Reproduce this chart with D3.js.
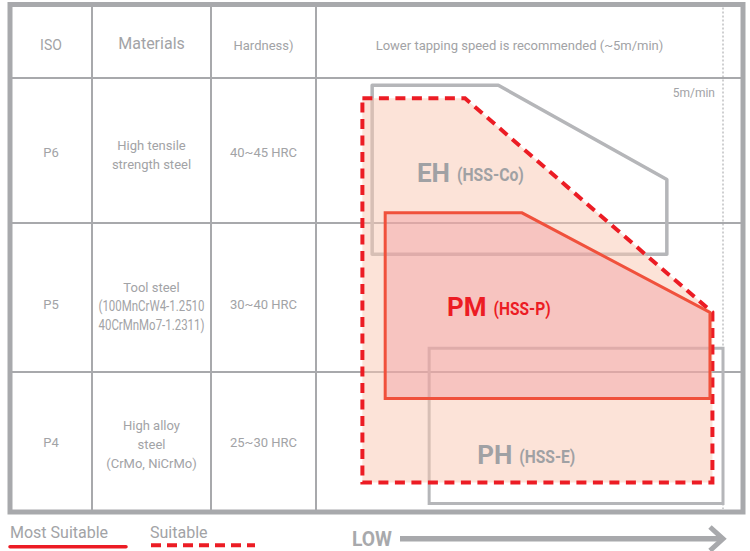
<!DOCTYPE html>
<html>
<head>
<meta charset="utf-8">
<script src="https://d3js.org/d3.v7.min.js"></script>
<style>
  body { margin: 0; background: #fff; }
  text { font-family: Roboto, "Liberation Sans", sans-serif; }
</style>
</head>
<body>
<div id="chart"></div>
<script>
// table content
var isoGrades = ["P6", "P5", "P4"];
var materials = [
  ["High tensile", "strength steel"],
  ["Tool steel", "(100MnCrW4-1.2510", "40CrMnMo7-1.2311)"],
  ["High alloy", "steel", "(CrMo, NiCrMo)"]
];
var hardness = ["40~45 HRC", "30~40 HRC", "25~30 HRC"];
var headers = ["ISO", "Materials", "Hardness)", "Lower tapping speed is recommended (~5m/min)"];

// tap regions: [speed m/min, row position (0 = top of P6, 3 = bottom of P4)]
var ehShape = [[0.69, 0.05], [2.24, 0.05], [4.31, 0.7], [4.31, 1.21], [0.69, 1.21]];
var suitableShape = [[0.57, 0.14], [1.83, 0.14], [4.87, 1.6], [4.87, 2.79], [0.57, 2.79]];
var pmShape = [[0.85, 0.93], [2.53, 0.93], [4.84, 1.6], [4.84, 2.19], [0.85, 2.19]];
var phShape = [[1.39, 1.84], [5, 1.84], [5, 2.94], [1.39, 2.94]];
var maxSpeed = 5;

var width = 750,
    height = 551;

var grey = "#a8a9ac",
    textGrey = "#a2a3a6",
    red = "#ec1c24";

var svg = d3.select("#chart").append("svg")
    .attr("width", width)
    .attr("height", height);

// layout of the table
var colEdges = [10, 92, 211, 316, 743];
var rowEdges = [4.5, 78, 223, 372, 512];
var rowBase = [157, 309, 447];   // text baselines per row

var x = d3.scaleLinear().domain([0, maxSpeed]).range([316, 723]);
var y = d3.scaleLinear().domain([0, 1, 2, 3]).range(rowEdges.slice(1));

// inner grid
svg.selectAll(".col")
  .data(colEdges.slice(1, 4))
  .enter().append("line")
    .attr("x1", function(d) { return d; })
    .attr("x2", function(d) { return d; })
    .attr("y1", rowEdges[0])
    .attr("y2", rowEdges[4])
    .attr("stroke", grey)
    .attr("stroke-width", 2);

svg.selectAll(".row")
  .data(rowEdges.slice(1, 4))
  .enter().append("line")
    .attr("x1", colEdges[0])
    .attr("x2", colEdges[4])
    .attr("y1", function(d) { return d; })
    .attr("y2", function(d) { return d; })
    .attr("stroke", grey)
    .attr("stroke-width", 2);

// 5m/min marker
svg.append("line")
    .attr("x1", x(maxSpeed)).attr("x2", x(maxSpeed))
    .attr("y1", rowEdges[0] + 3).attr("y2", rowEdges[4] - 3)
    .attr("stroke", "#9fa0a3")
    .attr("stroke-width", 1)
    .attr("stroke-dasharray", "2,2");

svg.append("text")
    .attr("x", x(maxSpeed) - 8)
    .attr("y", 97)
    .attr("text-anchor", "end")
    .style("font-size", "12px")
    .style("fill", textGrey)
    .text("5m/min");

// header texts
var headerCenters = [
  (colEdges[0] + colEdges[1]) / 2,
  (colEdges[1] + colEdges[2]) / 2,
  (colEdges[2] + colEdges[3]) / 2,
  (colEdges[3] + x(maxSpeed)) / 2
];
svg.selectAll(".head")
  .data(headers)
  .enter().append("text")
    .attr("x", function(d, i) { return headerCenters[i]; })
    .attr("y", function(d, i) { return i == 1 ? 49 : 50; })
    .attr("text-anchor", "middle")
    .style("font-size", function(d, i) { return i == 1 ? "16px" : (i == 0 ? "14px" : "13px"); })
    .style("fill", textGrey)
    .text(function(d) { return d; });

// row texts
svg.selectAll(".iso")
  .data(isoGrades)
  .enter().append("text")
    .attr("x", headerCenters[0])
    .attr("y", function(d, i) { return rowBase[i]; })
    .attr("text-anchor", "middle")
    .style("font-size", "13px")
    .style("fill", textGrey)
    .text(function(d) { return d; });

svg.selectAll(".hard")
  .data(hardness)
  .enter().append("text")
    .attr("x", headerCenters[2])
    .attr("y", function(d, i) { return rowBase[i]; })
    .attr("text-anchor", "middle")
    .style("font-size", "13px")
    .style("fill", textGrey)
    .text(function(d) { return d; });

materials.forEach(function(lines, i) {
  var lh = 19,
      top = rowBase[i] - (lines.length - 1) * lh / 2 + 2;
  svg.selectAll(".mat" + i)
    .data(lines)
    .enter().append("text")
      .attr("x", headerCenters[1])
      .attr("y", function(d, j) { return top + j * lh; })
      .attr("text-anchor", "middle")
      .attr("textLength", function(d) { return d.indexOf("1.2") >= 0 ? 106 : null; })
      .attr("lengthAdjust", "spacingAndGlyphs")
      .style("font-size", function(d) { return d.indexOf("1.2") >= 0 ? "14px" : "13px"; })
      .style("fill", textGrey)
      .text(function(d) { return d; });
});

// regions
var line = d3.line()
    .x(function(d) { return x(d[0]); })
    .y(function(d) { return y(d[1]); })
    .curve(d3.curveLinearClosed);

svg.append("path")
    .datum(phShape)
    .attr("d", line)
    .attr("fill", "none")
    .attr("stroke", "#b5b6b9")
    .attr("stroke-width", 3);

svg.append("path")
    .datum(ehShape)
    .attr("d", line)
    .attr("fill", "none")
    .attr("stroke", "#b5b6b9")
    .attr("stroke-width", 3.5)
    .attr("stroke-linejoin", "round");

svg.append("path")
    .datum(suitableShape)
    .attr("d", line)
    .attr("fill", "#f9c7b2")
    .attr("fill-opacity", 0.5)
    .attr("stroke", red)
    .attr("stroke-width", 4)
    .attr("stroke-dasharray", "10,6.5");

svg.append("path")
    .datum(pmShape)
    .attr("d", line)
    .attr("fill", "#ef8a95")
    .attr("fill-opacity", 0.35)
    .attr("stroke", "#f0513c")
    .attr("stroke-width", 3);

// region labels
var labels = [
  {name: "EH", tap: "(HSS-Co)", tapWidth: 67, speed: 1.24, row: 0.715, color: "#a0a1a4"},
  {name: "PM", tap: "(HSS-P)", tapWidth: 57, speed: 1.61, row: 1.624, color: red},
  {name: "PH", tap: "(HSS-E)", tapWidth: 56, speed: 1.98, row: 2.657, color: "#a0a1a4"}
];

labels.forEach(function(d) {
  var big = svg.append("text")
      .attr("x", x(d.speed))
      .attr("y", y(d.row))
      .style("fill", d.color)
      .style("font-size", "26px")
      .style("font-weight", "bold")
      .text(d.name);
  var w = big.node().getComputedTextLength();
  svg.append("text")
      .attr("x", x(d.speed) + w + 7)
      .attr("y", y(d.row) - 1)
      .attr("textLength", d.tapWidth)
      .attr("lengthAdjust", "spacingAndGlyphs")
      .style("fill", d.color)
      .style("font-size", "18px")
      .style("font-weight", "bold")
      .text(d.tap);
});

// outer frame
svg.append("rect")
    .attr("x", colEdges[0])
    .attr("y", rowEdges[0])
    .attr("width", colEdges[4] - colEdges[0])
    .attr("height", rowEdges[4] - rowEdges[0])
    .attr("fill", "none")
    .attr("stroke", grey)
    .attr("stroke-width", 5);

// legend
svg.append("text")
    .attr("x", 10).attr("y", 538)
    .style("font-size", "16px")
    .style("fill", textGrey)
    .text("Most Suitable");

svg.append("line")
    .attr("x1", 10).attr("x2", 126)
    .attr("y1", 546.7).attr("y2", 546.7)
    .attr("stroke", red)
    .attr("stroke-width", 3.5)
    .attr("stroke-linecap", "round");

svg.append("text")
    .attr("x", 150).attr("y", 538)
    .style("font-size", "16px")
    .style("fill", textGrey)
    .text("Suitable");

svg.append("line")
    .attr("x1", 151).attr("x2", 255)
    .attr("y1", 545.3).attr("y2", 545.3)
    .attr("stroke", red)
    .attr("stroke-width", 4)
    .attr("stroke-dasharray", "10,6");

// speed arrow
svg.append("text")
    .attr("x", 352).attr("y", 546)
    .attr("textLength", 40)
    .attr("lengthAdjust", "spacingAndGlyphs")
    .style("font-size", "20px")
    .style("font-weight", "bold")
    .style("fill", grey)
    .text("LOW");

svg.append("line")
    .attr("x1", 400).attr("x2", x(maxSpeed) - 2)
    .attr("y1", 538.8).attr("y2", 538.8)
    .attr("stroke", grey)
    .attr("stroke-width", 5.5);

svg.append("path")
    .attr("d", d3.line()([[710, 527], [x(maxSpeed), 538.8], [710, 550.6]]))
    .attr("fill", "none")
    .attr("stroke", grey)
    .attr("stroke-width", 5)
    .attr("stroke-linejoin", "miter");
</script>
</body>
</html>
